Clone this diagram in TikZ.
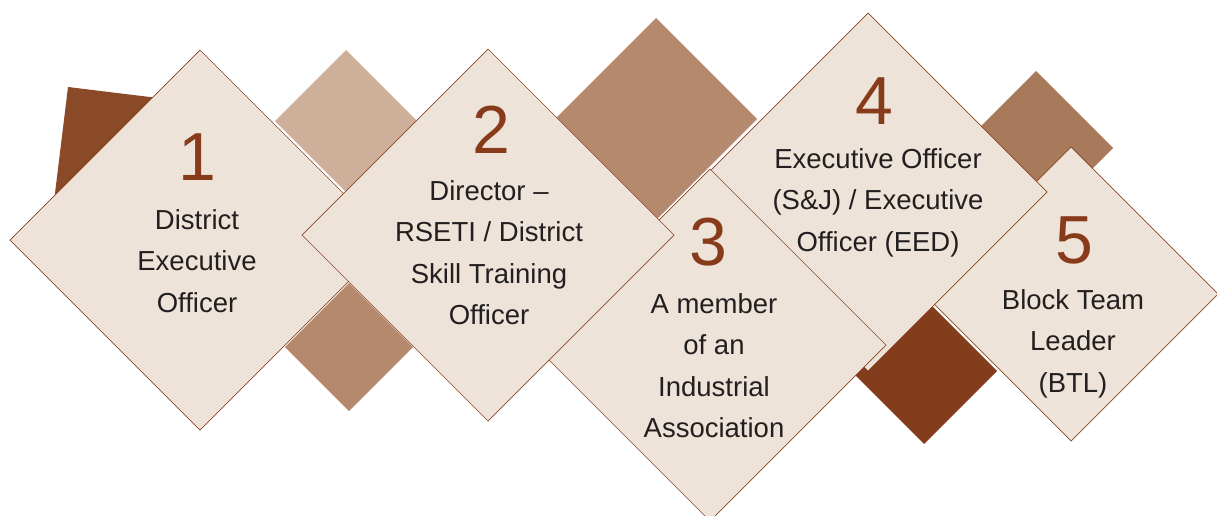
\documentclass[tikz,border=0pt]{standalone}
\usepackage{fontspec}
\setmainfont{Liberation Sans}
\usetikzlibrary{shapes.geometric}
\definecolor{boxfill}{RGB}{237,227,217}
\definecolor{edgecol}{RGB}{139,70,36}
\definecolor{numcol}{RGB}{136,59,26}
\definecolor{txtcol}{RGB}{35,31,32}
\definecolor{darkA}{RGB}{138,74,39}
\definecolor{tanA}{RGB}{206,176,154}
\definecolor{midA}{RGB}{181,137,110}
\definecolor{midB}{RGB}{169,121,91}
\definecolor{darkB}{RGB}{132,61,28}
\newcommand\dlines[1]{\parbox[t]{320pt}{\centering #1}}
\begin{document}
\begin{tikzpicture}[x=1pt,y=-1pt,
  dia/.style={diamond, aspect=1, inner sep=0pt, outer sep=0pt, draw=edgecol, line width=0.7pt, fill=boxfill},
  back/.style={diamond, aspect=1, inner sep=0pt, outer sep=0pt, draw=none},
  num/.style={anchor=base, inner sep=0pt, text=numcol, font=\fontsize{68}{68}\selectfont},
  lbl/.style={anchor=base, inner sep=0pt, text=txtcol, font=\fontsize{27.5}{41.5}\selectfont}]
\useasboundingbox (0,0) rectangle (1217,515);
\clip (0,0) rectangle (1217,515);
% background shapes
\fill[darkA] (68,87) -- (207,104) -- (190,243) -- (51,226) -- cycle;
\node[back, fill=tanA, minimum size=142pt] (b1) at (346,121) {};
\node[back, fill=midA, minimum size=128pt] (b2) at (349,347) {};
\node[back, fill=midA, minimum size=202pt] (b3) at (656,119) {};
\node[back, fill=midB, minimum size=154pt] (b4) at (1036,148) {};
\node[back, fill=darkB, minimum size=146pt] (b5) at (924,371) {};
% main diamonds
\node[dia, minimum size=294pt] (d5) at (1071,294) {};
\node[dia, minimum size=358pt] (d4) at (868,192) {};
\node[dia, minimum size=352pt] (d3) at (710,345) {};
\node[dia, minimum size=380pt] (d1) at (200,240) {};
\node[dia, minimum size=372pt] (d2) at (488,235) {};
% numbers
\node[num] (n1) at (197,180) {1};
\node[num] (n2) at (491,153) {2};
\node[num] (n3) at (708,265) {3};
\node[num] (n4) at (874,124) {4};
\node[num] (n5) at (1074,263) {5};
% labels
\node[lbl] (t1) at (197,229) {\dlines{District\\Executive\\Officer}};
\node[lbl] (t2) at (489,200) {\dlines{Director –\\RSETI / District\\Skill Training\\Officer}};
\node[lbl] (t3) at (714,313) {\dlines{A member\\of an\\Industrial\\Association}};
\node[lbl] (t4) at (878,168) {\dlines{Executive Officer\\(S\&J) / Executive\\Officer (EED)}};
\node[lbl] (t5) at (1073,309) {\dlines{Block Team\\Leader\\(BTL)}};
\end{tikzpicture}
\end{document}
